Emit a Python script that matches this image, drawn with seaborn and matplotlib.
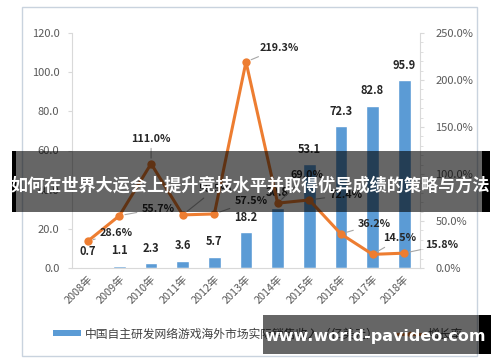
import numpy as np
import matplotlib
matplotlib.use("Agg")
import matplotlib.pyplot as plt
from matplotlib.patches import Rectangle, Patch
from matplotlib.lines import Line2D
from matplotlib.ticker import MultipleLocator, FuncFormatter
import seaborn as sns

years = ["2008年", "2009年", "2010年", "2011年", "2012年", "2013年",
         "2014年", "2015年", "2016年", "2017年", "2018年"]
revenue = [0.7, 1.1, 2.3, 3.6, 5.7, 18.2, 30.8, 53.1, 72.3, 82.8, 95.9]
growth = [28.6, 55.7, 111.0, 56.5, 57.5, 219.3, 69.0, 72.4, 36.2, 14.5, 15.8]
bar_name = "中国自主研发网络游戏海外市场实际销售收入（亿美元）"
line_name = "增长率"
title = "如何在世界大运会上提升竞技水平并取得优异成绩的策略与方法"
watermark = "www.world-pavideo.com"

sns.set_style("white")
plt.rcParams['font.family'] = ['Noto Sans CJK SC', 'DejaVu Sans']

BLUE = "#5B9BD5"
ORANGE = "#ED7D31"
GRAY_TXT = "#595959"
AX_COL = "#D9D9D9"

W, H = 500, 362
fig = plt.figure(figsize=(5, 3.62), dpi=100)
fig.patch.set_facecolor("white")

# outer chart frame
fig.patches.append(Rectangle((22 / W, 1 - 356 / H), (477 - 22) / W, (356 - 7) / H,
                             transform=fig.transFigure, fill=False,
                             edgecolor="#C9D3DE", linewidth=1.0, zorder=0))

ax = fig.add_axes([72 / W, 1 - 268 / H, (420 - 72) / W, (268 - 33) / H])
sns.barplot(x=years, y=revenue, color=BLUE, saturation=1, width=0.4, ax=ax, zorder=2)
ax.set_ylim(0, 120)
ax.set_xlim(-0.5, len(years) - 0.5)
ax.yaxis.set_major_locator(MultipleLocator(20))
ax.yaxis.set_major_formatter(FuncFormatter(lambda v, p: f"{v:.1f}"))
ax.set_xlabel("")
ax.set_ylabel("")

ax2 = ax.twinx()
xs = np.arange(len(years))
sns.lineplot(x=xs, y=growth, ax=ax2, color=ORANGE, linewidth=2.2, marker="o",
             markersize=6, markeredgewidth=0, zorder=3)
ax2.set_ylim(0, 250)
ax2.set_xlim(-0.5, len(years) - 0.5)
ax2.yaxis.set_major_locator(MultipleLocator(50))
ax2.yaxis.set_minor_locator(MultipleLocator(10))
ax2.yaxis.set_major_formatter(FuncFormatter(lambda v, p: f"{v:.1f}%"))
ax2.set_ylabel("")

for a in (ax, ax2):
    a.set_facecolor("none")
    for s in a.spines.values():
        s.set_visible(False)
    a.grid(False)

ax.spines["left"].set_visible(True)
ax.spines["left"].set_color(AX_COL)
ax.spines["bottom"].set_visible(True)
ax.spines["bottom"].set_color(AX_COL)
ax2.spines["right"].set_visible(True)
ax2.spines["right"].set_color(AX_COL)

ax.tick_params(axis="y", labelsize=8, colors=GRAY_TXT, length=3, color=AX_COL, pad=6)
ax.tick_params(axis="x", labelsize=7.8, colors=GRAY_TXT, length=0, pad=4)
ax2.tick_params(axis="y", which="major", labelsize=8, colors=GRAY_TXT, length=3,
                color=AX_COL, pad=8)
ax2.tick_params(axis="y", which="minor", length=2, color=AX_COL)
for lbl in ax.get_xticklabels():
    lbl.set_rotation(45)
    lbl.set_ha("right")
    lbl.set_rotation_mode("anchor")
ax.set_xticks(np.arange(len(years) + 1) - 0.5, minor=True)
ax.tick_params(axis="x", which="minor", length=3, color=AX_COL)

# bar value labels
for i, v in enumerate(revenue):
    ax.annotate(f"{v:.1f}", xy=(i, v), xytext=(0, 15), textcoords="offset pixels",
                ha="center", va="center", fontsize=8, fontweight="bold",
                color="#262626", zorder=5)

# growth labels with leader lines
offsets = [(12, 8), (22, 7), (0, 25), (16, 26), (20, 13), (14, 14),
           (13, 28), (20, 5), (17, 10), (11, 16), (21, 8)]
has = ["left", "left", "center", "left", "left", "left",
       "left", "left", "left", "left", "left"]
for i, g in enumerate(growth):
    dx, dy = offsets[i]
    ax2.annotate(f"{g:.1f}%", xy=(i, g), xytext=(dx, dy), textcoords="offset pixels",
                 ha=has[i], va="center", fontsize=7.8, fontweight="bold",
                 color="#262626", zorder=5,
                 arrowprops=dict(arrowstyle="-", color="#A6A6A6", lw=0.8,
                                 shrinkA=1, shrinkB=4))

# legend
handles = [Patch(facecolor=BLUE, edgecolor="none", label=bar_name),
           Line2D([0], [0], color=ORANGE, lw=2, marker="o", markersize=4,
                  markeredgewidth=0, label=line_name)]
fig.legend(handles=handles, loc="center left", bbox_to_anchor=(42 / W, 1 - 334 / H),
           ncol=2, frameon=False, fontsize=8.5, handlelength=2.4, handleheight=0.4,
           handletextpad=0.3, columnspacing=1.5, labelcolor="#404040")

# overlay banner
fig.patches.append(Rectangle((16 / W, 1 - 212 / H), (482 - 16) / W, (212 - 151) / H,
                             transform=fig.transFigure, facecolor="black",
                             alpha=0.6, edgecolor="none", zorder=10))
fig.patches.append(Rectangle((12 / W, 1 - 212 / H), 4 / W, (212 - 151) / H,
                             transform=fig.transFigure, facecolor="black",
                             edgecolor="none", zorder=10))
fig.patches.append(Rectangle((482 / W, 1 - 212 / H), 8 / W, (212 - 151) / H,
                             transform=fig.transFigure, facecolor="black",
                             edgecolor="none", zorder=10))
fig.text(250 / W, 1 - 186 / H, title, ha="center", va="center", color="white",
         fontsize=12.3, fontweight="bold", zorder=11)

# watermark
fig.patches.append(Rectangle((263 / W, 1 - 354 / H), (479 - 263) / W, (354 - 315) / H,
                             transform=fig.transFigure, facecolor="black",
                             alpha=0.6, edgecolor="none", zorder=10))
fig.patches.append(Rectangle((479 / W, 1 - 354 / H), 12 / W, (354 - 315) / H,
                             transform=fig.transFigure, facecolor="black",
                             edgecolor="none", zorder=10))
fig.text(375 / W, 1 - 336 / H, watermark, ha="center", va="center", color="white",
         fontsize=11.5, fontweight="bold", zorder=11, family=["DejaVu Sans"])

fig.savefig("out.png", dpi=100)
